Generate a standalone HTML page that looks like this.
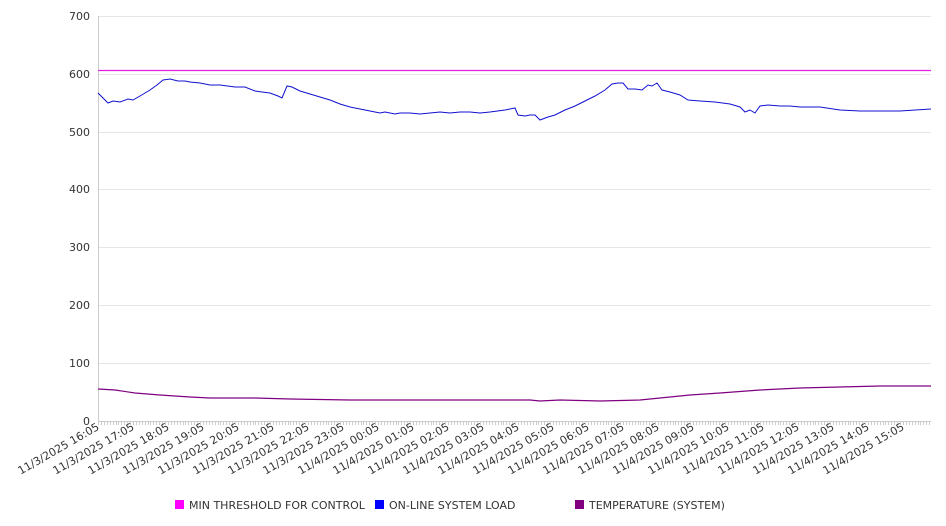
<!DOCTYPE html>
<html><head><style>body{margin:0;background:#fff}svg{display:block;font-family:"DejaVu Sans","Liberation Sans",sans-serif}</style></head><body>
<svg width="946" height="526" xmlns="http://www.w3.org/2000/svg">
<g stroke="#e6e6e6" stroke-width="1">
<line x1="98" x2="931" y1="16.5" y2="16.5"/><line x1="98" x2="931" y1="74.5" y2="74.5"/><line x1="98" x2="931" y1="132.5" y2="132.5"/><line x1="98" x2="931" y1="189.5" y2="189.5"/><line x1="98" x2="931" y1="247.5" y2="247.5"/><line x1="98" x2="931" y1="305.5" y2="305.5"/><line x1="98" x2="931" y1="363.5" y2="363.5"/>
</g>
<line x1="98.5" x2="98.5" y1="16" y2="421" stroke="#ccc"/>
<line x1="98" x2="931" y1="421.5" y2="421.5" stroke="#ccc"/>
<g font-size="11" fill="#333" text-anchor="end">
<text x="90" y="20">700</text><text x="90" y="78">600</text><text x="90" y="136">500</text><text x="90" y="193">400</text><text x="90" y="251">300</text><text x="90" y="309">200</text><text x="90" y="367">100</text><text x="90" y="425">0</text>
</g>
<g id="ticks" stroke="#ccc"></g>
<g id="xl" font-size="11" fill="#333" text-anchor="end"></g>
<line x1="98" x2="931" y1="70.5" y2="70.5" stroke="#e020e0" stroke-width="1.2"/>
<polyline fill="none" stroke="#1010d0" stroke-width="1" points="98,93 108,103 113,101 120,102 128,99 133,100 140,96 150,90 157,85 163,80 170,79 178,81 185,81 190,82 200,83 210,85 220,85 235,87 245,87 255,91 262,92 270,93 278,96 282,98 287,86 292,87 300,91 310,94 320,97 330,100 340,104 350,107 360,109 370,111 380,113 385,112 395,114 400,113 410,113 420,114 430,113 440,112 450,113 460,112 470,112 480,113 490,112 505,110 515,108 518,115 525,116 530,115 535,115 540,120 548,117 555,115 565,110 575,106 585,101 595,96 605,90 612,84 618,83 623,83 628,89 635,89 642,90 648,85 652,86 657,83 662,90 670,92 680,95 688,100 700,101 715,102 730,104 740,107 745,112 750,110 755,113 760,106 768,105 780,106 790,106 800,107 820,107 840,110 860,111 880,111 900,111 931,109"/>
<polyline fill="none" stroke="#800080" stroke-width="1.2" points="98,389 115,390 135,393 160,395 190,397 210,398 255,398 290,399 350,400 420,400 500,400 530,400 540,401 560,400 600,401 640,400 660,398 690,395 720,393 760,390 800,388 840,387 880,386 931,386"/>
<g font-size="11" fill="#333">
<rect x="175" y="500" width="9" height="9" fill="#ff00ff"/><text x="189" y="509">MIN THRESHOLD FOR CONTROL</text>
<rect x="375" y="500" width="9" height="9" fill="#0000ff"/><text x="389" y="509">ON-LINE SYSTEM LOAD</text>
<rect x="575" y="500" width="9" height="9" fill="#800080"/><text x="589" y="509">TEMPERATURE (SYSTEM)</text>
</g>
</svg>
<script>
var t=document.getElementById('ticks'),x=document.getElementById('xl'),ns='http://www.w3.org/2000/svg',s='';
for(var px=98;px<=931;px+=35/12){s+='<line x1="'+(Math.round(px)+0.5)+'" x2="'+(Math.round(px)+0.5)+'" y1="421" y2="425"/>';}
t.innerHTML=s;s='';
var hrs=[16,17,18,19,20,21,22,23,0,1,2,3,4,5,6,7,8,9,10,11,12,13,14,15];
for(var i=0;i<24;i++){var px=98+i*35,d=(i<8?'11/3/2025 ':'11/4/2025 ')+String(hrs[i]).padStart(2,'0')+':05';
s+='<text transform="translate('+(px+2)+',429) rotate(-30)">'+d+'</text>';}
x.innerHTML=s;
</script>
</body></html>
